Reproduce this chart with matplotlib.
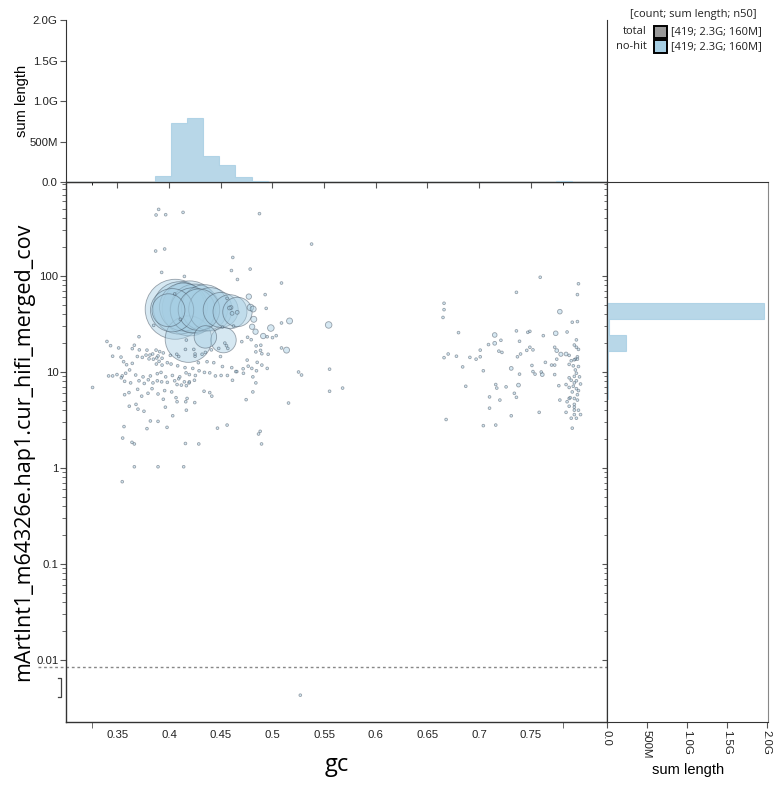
import numpy as np
import matplotlib
matplotlib.use("Agg")
import matplotlib.pyplot as plt
from matplotlib.patches import Rectangle
from matplotlib.ticker import FixedLocator, NullFormatter
import matplotlib.transforms as mtrans

# ---- data (gc, coverage, length) ----
# scaffolds (big bubbles)
big_gc = [0.3995, 0.4030, 0.4060, 0.4100, 0.4140, 0.4200, 0.4230, 0.4250, 0.4290, 0.4188,
          0.4345, 0.4400, 0.4352, 0.4500, 0.4527, 0.4590, 0.4662]
big_cov = [44.0, 44.0, 45.0, 46.5, 47.5, 46.0, 44.0, 45.5, 44.5, 22.0,
           46.5, 45.0, 23.2, 44.3, 21.5, 42.5, 42.2]
big_len = [75e6, 130e6, 250e6, 190e6, 160e6, 210e6, 140e6, 170e6, 120e6, 150e6,
           150e6, 130e6, 35e6, 85e6, 45e6, 80e6, 60e6]

# medium contigs
med_gc = [0.4985, 0.4911, 0.4837, 0.4804, 0.4820, 0.4772, 0.4814, 0.4788, 0.5166, 0.5544,
          0.5137, 0.778, 0.715, 0.774, 0.715, 0.775, 0.779, 0.784, 0.731, 0.761, 0.738,
          0.4585, 0.4610, 0.4660, 0.4600]
med_cov = [28.7, 23.7, 26.3, 29.6, 35.4, 61.0, 45.3, 47.0, 34.0, 30.9,
           16.9, 42.5, 24.3, 25.3, 19.9, 16.7, 15.3, 15.4, 10.9, 9.4, 7.3,
           46.4, 40.8, 41.8, 47.0]
med_len = [3e6, 2e6, 2e6, 2e6, 2.5e6, 2e6, 2.5e6, 3e6, 2.5e6, 3e6,
           2.5e6, 1.5e6, 1.5e6, 1.5e6, 1e6, 1e6, 1.2e6, 1e6, 1e6, 1e6, 1e6,
           1e6, 1e6, 1e6, 1e6]

# small contigs, GC-poor cluster
left_gc = [0.390, 0.3875, 0.3968, 0.4136, 0.4875, 0.3871, 0.3958, 0.3929, 0.4149, 0.4617,
           0.4604, 0.4785, 0.4662, 0.493, 0.494, 0.5037, 0.5001, 0.4562, 0.476, 0.495,
           0.4055, 0.411, 0.3852, 0.4624, 0.4517, 0.4556, 0.4168,
           0.371, 0.340, 0.3435, 0.3513, 0.3645, 0.3665, 0.3713, 0.3787, 0.3875, 0.391,
           0.3842, 0.3816, 0.3894, 0.3945, 0.4013, 0.4075, 0.4094, 0.4159, 0.424, 0.4252,
           0.4252, 0.432, 0.4352, 0.441, 0.4481, 0.4498, 0.454, 0.4569, 0.4704, 0.4795,
           0.4843, 0.4888, 0.4885, 0.4898, 0.484, 0.4959, 0.4756, 0.4717, 0.4801, 0.4853,
           0.4898, 0.495, 0.4846, 0.4811, 0.484, 0.4811, 0.4746,
           0.3455, 0.3536, 0.3561, 0.359, 0.3645, 0.3694, 0.3742, 0.3778, 0.3807, 0.3849,
           0.3881, 0.3904, 0.3933, 0.3984, 0.3878, 0.3933, 0.402, 0.4084, 0.4155, 0.423,
           0.4284, 0.4368, 0.4433, 0.4517, 0.4607, 0.4656, 0.472, 0.4766,
           0.3416, 0.3455, 0.3497, 0.3548, 0.3581, 0.3619, 0.3678, 0.3749, 0.382, 0.3887,
           0.3923, 0.3968, 0.4033, 0.4094, 0.4165, 0.4197, 0.4255, 0.4291, 0.4343, 0.4394,
           0.4449, 0.4504, 0.4565, 0.4614, 0.4646,
           0.3539, 0.3571, 0.3629, 0.371, 0.3761, 0.38, 0.3845, 0.3887, 0.3929, 0.3984,
           0.4055, 0.4104, 0.4149, 0.4194, 0.4246,
           0.3261, 0.3571, 0.3613, 0.3697, 0.3736, 0.3797, 0.3836, 0.3894, 0.3958, 0.4026,
           0.4078, 0.412, 0.4168, 0.4197, 0.4339, 0.4394, 0.4414, 0.4068, 0.4078, 0.4175,
           0.4162, 0.3945, 0.4249,
           0.3616, 0.3681, 0.370, 0.3758, 0.3965, 0.4036, 0.4168,
           0.3565, 0.3787, 0.382, 0.3894, 0.3981, 0.4469, 0.4562, 0.4882, 0.4866, 0.4895,
           0.3552, 0.3642, 0.3665, 0.4159, 0.4288, 0.3665, 0.3894, 0.4142, 0.3548]
left_cov = [494, 432, 435, 460, 446, 182, 191, 109, 99, 156,
            114, 118, 92, 64, 46, 23.9, 22.8, 58.5, 23.0, 23.3,
            65, 35.4, 30.6, 30.1, 29.4, 18.8, 21.5,
            23.3, 20.8, 18.8, 17.8, 17.5, 19.0, 17.0, 16.9, 16.9, 16.3,
            15.4, 15.0, 14.7, 15.8, 14.9, 15.3, 14.5, 17.2, 17.2, 15.4,
            14.6, 15.3, 16.0, 17.0, 17.6, 14.5, 20.0, 17.6, 20.7, 21.7,
            18.7, 19.0, 16.8, 15.5, 16.2, 15.3, 13.3, 10.8, 10.9, 12.6,
            11.8, 10.9, 10.3, 8.9, 7.7, 6.2, 5.15,
            14.6, 14.3, 12.8, 11.9, 12.3, 14.5, 14.2, 15.0, 13.7, 13.6,
            14.0, 12.9, 13.9, 12.5, 12.1, 11.8, 12.1, 11.6, 11.1, 10.9,
            12.5, 12.8, 12.5, 11.4, 11.1, 10.1, 9.7, 11.5,
            9.1, 9.1, 9.4, 9.1, 9.7, 10.5, 9.3, 8.9, 9.1, 9.6,
            9.9, 8.9, 9.2, 8.5, 9.8, 9.4, 9.2, 10.3, 9.9, 9.8,
            9.1, 9.2, 9.2, 8.2, 10.1,
            8.7, 8.0, 7.7, 8.1, 7.6, 8.3, 7.7, 8.1, 7.9, 7.8,
            8.1, 8.9, 7.9, 7.7, 8.2,
            6.9, 5.8, 6.1, 6.6, 5.6, 6.0, 6.7, 5.9, 6.4, 6.2,
            7.4, 7.3, 7.2, 7.9, 6.3, 6.1, 5.6, 5.4, 4.9, 5.3,
            4.9, 5.2, 4.8,
            4.4, 4.6, 4.1, 3.9, 4.3, 3.5, 4.0,
            2.7, 2.57, 3.09, 3.06, 2.65, 2.6, 2.8, 2.41, 2.26, 1.78,
            2.05, 1.85, 1.78, 1.8, 1.78, 1.03, 1.03, 1.03, 0.72]

# small contigs between the clusters
mid_gc = [0.5379, 0.5088, 0.5088, 0.5088, 0.5253, 0.5282, 0.5553, 0.5553, 0.5679, 0.5156]
mid_cov = [215, 84.5, 32.4, 17.8, 10.0, 9.3, 10.7, 6.3, 6.8, 4.75]

# small contigs, GC-rich cluster
right_gc = [0.759, 0.736, 0.796, 0.795, 0.666, 0.666, 0.665, 0.790, 0.795, 0.680,
            0.736, 0.747, 0.749, 0.762, 0.785, 0.739, 0.709, 0.721, 0.794, 0.666,
            0.670, 0.678, 0.684, 0.691, 0.697, 0.701, 0.701, 0.719, 0.722, 0.737,
            0.740, 0.746, 0.749, 0.752, 0.773, 0.787, 0.792, 0.794, 0.796, 0.795,
            0.793, 0.764, 0.770, 0.773, 0.775, 0.787, 0.789, 0.792, 0.795, 0.791,
            0.796, 0.793, 0.794, 0.704, 0.739, 0.751, 0.752, 0.754, 0.760, 0.773,
            0.787, 0.792, 0.797, 0.798, 0.794, 0.792, 0.789, 0.777, 0.784, 0.787,
            0.791, 0.794, 0.796, 0.790, 0.795, 0.792, 0.788, 0.795, 0.792, 0.787,
            0.796, 0.798, 0.792, 0.794, 0.789, 0.790, 0.778, 0.785, 0.687, 0.716,
            0.717, 0.726, 0.734, 0.736, 0.710, 0.720, 0.710, 0.731, 0.668, 0.704,
            0.716, 0.758, 0.784, 0.792, 0.792, 0.787]
right_cov = [97, 67.6, 83, 64, 52, 44.6, 37, 33, 33.5, 25.7,
             26.8, 25.9, 26.5, 23.9, 26.1, 20.9, 19.3, 21.4, 21.6, 14.1,
             15.4, 14.6, 11.3, 14.2, 13.6, 14.4, 16.9, 16.5, 16.0, 14.4,
             15.4, 16.8, 18.1, 17.0, 18.1, 14.9, 19.1, 18.1, 17.2, 14.4,
             13.6, 12.6, 11.8, 11.8, 13.6, 12.0, 13.1, 13.4, 13.6, 11.6,
             11.4, 10.5, 9.7, 10.3, 9.5, 11.7, 10.1, 9.5, 10.0, 9.4,
             8.7, 9.0, 8.9, 7.5, 8.1, 7.7, 8.2, 7.2, 7.4, 6.9,
             7.1, 6.7, 6.4, 6.2, 5.8, 5.3, 5.4, 5.1, 4.6, 4.4,
             4.0, 3.6, 3.6, 3.3, 3.3, 2.6, 5.1, 4.9, 7.1, 7.4,
             6.8, 7.0, 6.0, 5.45, 5.5, 5.1, 4.2, 3.5, 3.2, 2.76,
             2.8, 3.8, 3.8, 4.0, 4.3, 5.3]

# contig with zero coverage
zero_gc = [0.527]
zero_cov = [0.0]

small_len = 150e3
legend_rows = [("total", "[419; 2.3G; 160M]"), ("no-hit", "[419; 2.3G; 160M]")]

# ---- assemble ----
small_gc = left_gc + mid_gc + right_gc + zero_gc
small_cov = left_cov + mid_cov + right_cov + zero_cov
gc = np.array(big_gc + med_gc + small_gc)
cov = np.array(big_cov + med_cov + small_cov, dtype=float)
length = np.array(big_len + med_len + [small_len] * len(small_gc))

ZERO_Y = 0.0043
cov_plot = np.where(cov > 0, cov, ZERO_Y)

W, H = 782, 787
fig = plt.figure(figsize=(W / 100, H / 100), dpi=100)
ax = fig.add_axes([66 / W, 65 / H, 541 / W, 540 / H])
axt = fig.add_axes([66 / W, 605 / H, 541 / W, 162 / H], sharex=ax)
axr = fig.add_axes([607 / W, 65 / H, 161 / W, 540 / H], sharey=ax)

blue = "#a6cee3"
tick_font = "Liberation Sans"
tsize = 8.2

# bubble radius in px ~ sqrt(length)
r_px = np.maximum(1.35, 30 * np.sqrt(length / 2.5e8))
sizes = (2 * r_px * 72 / 100) ** 2
order = np.argsort(-length)
ax.scatter(gc[order], cov_plot[order], s=sizes[order],
           facecolor=matplotlib.colors.to_rgba(blue, 0.45),
           edgecolor=(0.25, 0.3, 0.36, 0.5), linewidth=0.6, zorder=3)

ax.set_yscale("log")
ax.set_xlim(0.3004, 0.8236)
ax.set_ylim(0.00226, 953)

# dashed zero-coverage divider and bracket
tr = mtrans.blended_transform_factory(ax.transAxes, ax.transData)
ax.plot([-0.052, 1.2976], [0.00845, 0.00845], transform=tr, color="#888888",
        lw=1, dashes=(2, 2), clip_on=False, zorder=1)
ax.plot([-0.0148, -0.0092, -0.0092, -0.0148], [0.0065, 0.0065, 0.0041, 0.0041],
        transform=tr, color="#444444", lw=0.9, clip_on=False)

# main axes ticks
xt = [0.35, 0.4, 0.45, 0.5, 0.55, 0.6, 0.65, 0.7, 0.75]
ax.set_xticks(xt)
ax.set_xticklabels(["0.35", "0.4", "0.45", "0.5", "0.55", "0.6", "0.65", "0.7", "0.75"])
ax.set_xticks([0.3252, 0.781], minor=True)
ax.tick_params(axis="x", which="major", length=0, pad=6, labelsize=tsize, labelcolor="#222222")
ax.tick_params(axis="x", which="minor", length=4, direction="out", color="#555555")
ax.set_yticks([0.01, 0.1, 1, 10, 100])
ax.set_yticklabels(["0.01", "0.1", "1", "10", "100"])
minor_y = [m * 10.0 ** e for e in range(-2, 3) for m in range(2, 10)]
minor_y = [v for v in minor_y if v < 953]
ax.yaxis.set_minor_locator(FixedLocator(minor_y))
ax.yaxis.set_minor_formatter(NullFormatter())
ax.tick_params(axis="y", which="major", length=4, pad=1.5, labelsize=tsize,
               labelcolor="#222222", color="#555555")
ax.tick_params(axis="y", which="minor", length=3, color="#555555")
for lbl in ax.get_xticklabels() + ax.get_yticklabels():
    lbl.set_family(tick_font)
for s in ax.spines.values():
    s.set_color("#333333")
    s.set_linewidth(1)

# top histogram (sum length by gc)
gc_edges = np.arange(0.2938, 0.84, 0.0155)
axt.hist(gc, bins=gc_edges, weights=length, histtype="stepfilled",
         color=blue, alpha=0.8, edgecolor=blue, lw=0.8)
axt.set_ylim(0, 2.005e9)
axt.set_yticks([0, 5e8, 1e9, 1.5e9, 2e9])
axt.set_yticklabels(["0.0", "500M", "1.0G", "1.5G", "2.0G"])
axt.tick_params(axis="y", length=4, pad=2, labelsize=tsize, labelcolor="#222222", color="#555555")
axt.tick_params(axis="x", length=4, labelbottom=False, color="#555555")
for lbl in axt.get_yticklabels():
    lbl.set_family(tick_font)
axt.spines["top"].set_visible(False)
for k in ("left", "bottom", "right"):
    axt.spines[k].set_color("#333333")
axt.patch.set_alpha(0)

# right histogram (sum length by coverage)
log_edges = 10 ** (1.552 + np.arange(-30, 10) / 6)
axr.hist(cov_plot, bins=log_edges, weights=length, orientation="horizontal",
         histtype="stepfilled", color=blue, alpha=0.8, edgecolor=blue, lw=0.8)
axr.set_xlim(0, 2.016e9)
axr.set_xticks([0, 5e8, 1e9, 1.5e9, 2e9])
axr.set_xticklabels(["0.0", "500M", "1.0G", "1.5G", "2.0G"], rotation=270)
axr.tick_params(axis="x", length=4, pad=2, labelsize=tsize, labelcolor="#222222", color="#555555")
axr.tick_params(axis="y", which="both", labelleft=False, color="#555555")
for lbl in axr.get_xticklabels():
    lbl.set_family(tick_font)
for k in ("left", "bottom", "top"):
    axr.spines[k].set_color("#333333")
axr.spines["right"].set_color("#888888")

# axis labels
fig.text(337 / W, 1 - 765 / H, "gc", ha="center", va="center", fontsize=17, family="Open Sans")
fig.text(24 / W, 1 - 452 / H, "mArtInt1_m64326e.hap1.cur_hifi_merged_cov", ha="center",
         va="center", rotation=90, fontsize=15.5, family="Open Sans")
fig.text(22 / W, 1 - 101 / H, "sum length", ha="center", va="center", rotation=90,
         fontsize=10.5, family=tick_font)
fig.text(688 / W, 1 - 770 / H, "sum length", ha="center", va="center",
         fontsize=10.5, family=tick_font)

# legend
fig.text(757 / W, 1 - 15 / H, "[count; sum length; n50]", ha="right", va="center",
         fontsize=8, family="Open Sans", color="#222222")
swatches = ["#999999", blue]
for i, (name, info) in enumerate(legend_rows):
    yc = 32 + i * 14.5
    fig.text(647 / W, 1 - yc / H, name, ha="right", va="center", fontsize=8,
             family="Open Sans", color="#222222")
    fig.patches.append(Rectangle((653.5 / W, 1 - (yc + 6) / H), 13 / W, 12 / H,
                                 transform=fig.transFigure, facecolor=swatches[i],
                                 edgecolor="black", lw=1.4))
    fig.text(671 / W, 1 - yc / H, info, ha="left", va="center", fontsize=8,
             family="Open Sans", color="#222222")

plt.savefig("out.png", dpi=100)
